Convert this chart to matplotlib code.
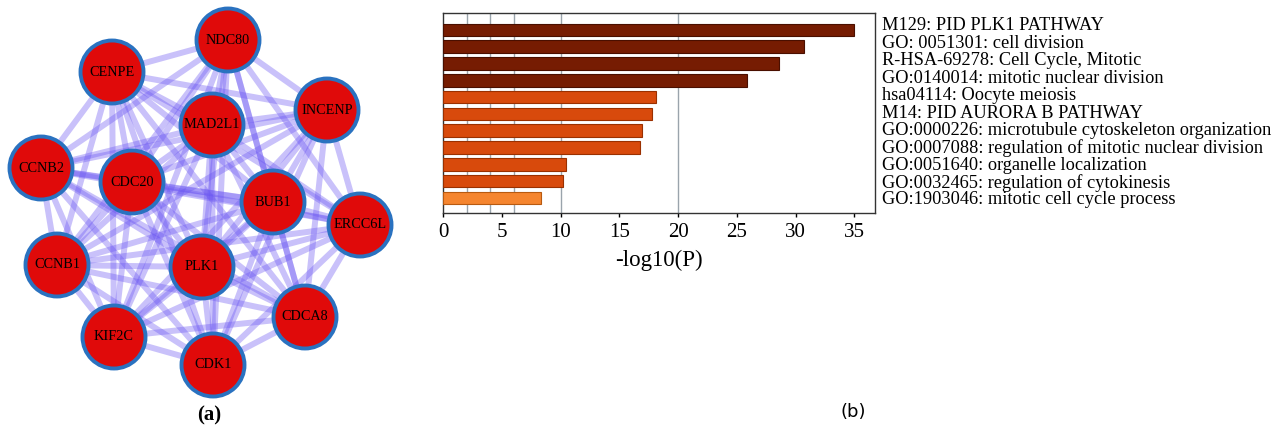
import itertools
import matplotlib
matplotlib.use("Agg")
import matplotlib.pyplot as plt
from matplotlib.patches import Circle

# network: hub genes and their layout positions (pixel space of the left panel)
genes = ["NDC80", "CENPE", "INCENP", "MAD2L1", "CCNB2", "CDC20", "BUB1",
         "ERCC6L", "CCNB1", "PLK1", "CDCA8", "KIF2C", "CDK1"]
node_x = [228, 112, 327, 212, 41, 132, 273, 360, 57, 202, 305, 114, 213]
node_y = [40, 72, 110, 125, 168, 182, 202, 225, 265, 267, 317, 337, 365]
edges = list(itertools.combinations(range(len(genes)), 2))

# enrichment terms
terms = [
    "M129: PID PLK1 PATHWAY",
    "GO: 0051301: cell division",
    "R-HSA-69278: Cell Cycle, Mitotic",
    "GO:0140014: mitotic nuclear division",
    "hsa04114: Oocyte meiosis",
    "M14: PID AURORA B PATHWAY",
    "GO:0000226: microtubule cytoskeleton organization",
    "GO:0007088: regulation of mitotic nuclear division",
    "GO:0051640: organelle localization",
    "GO:0032465: regulation of cytokinesis",
    "GO:1903046: mitotic cell cycle process",
]
logp = [35.0, 30.7, 28.6, 25.9, 18.1, 17.8, 16.9, 16.8, 10.5, 10.2, 8.3]

W, H = 1288, 430
fig = plt.figure(figsize=(W / 100, H / 100), dpi=100)

# full-figure canvas in pixel units for the network and panel labels
canvas = fig.add_axes([0, 0, 1, 1])
canvas.set_xlim(0, W)
canvas.set_ylim(H, 0)
canvas.axis("off")

for i, j in edges:
    canvas.plot([node_x[i], node_x[j]], [node_y[i], node_y[j]],
                color="#6a55f2", alpha=0.36, lw=4.3, solid_capstyle="butt", zorder=1)

for g, x, y in zip(genes, node_x, node_y):
    canvas.add_patch(Circle((x, y), 31.5, facecolor="#e00a0a", edgecolor="#2a72c0",
                            lw=2.8, zorder=3))
    canvas.text(x, y, g, ha="center", va="center", fontsize=10.3,
                family="Liberation Serif", color="black", zorder=4)

canvas.text(209, 415, "(a)", ha="center", va="center", fontsize=15,
            family="Liberation Serif", fontweight="bold")
canvas.text(853, 412, "(b)", ha="center", va="center", fontsize=13,
            family="DejaVu Sans")

# bar chart of -log10(P)
ax = fig.add_axes([443 / W, 1 - 213 / H, (875 - 443) / W, (213 - 12.7) / H])
colors = []
edgecols = []
for v in logp:
    if v > 20:
        colors.append("#761c02"); edgecols.append("#4a0f00")
    elif v > 9:
        colors.append("#d84a0c"); edgecols.append("#9a3000")
    else:
        colors.append("#f5852f"); edgecols.append("#b85a10")
ypos = list(range(len(terms)))
ax.barh(ypos, logp, height=0.75, color=colors, edgecolor=edgecols, lw=0.8, zorder=3)
for gx in [2, 4, 6, 10, 20]:
    ax.axvline(gx, color="#9aa4ac", lw=1, zorder=1)

ax.set_xlim(0, 36.76)
ax.set_ylim(10.9, -1.03)
ax.set_yticks([])
ax.set_xticks(range(0, 36, 5))
ax.tick_params(axis="x", length=3, width=1, labelsize=15, pad=4)
for lab in ax.get_xticklabels():
    lab.set_family("Liberation Serif")
ax.set_xlabel("-log10(P)", fontsize=16.5, family="Liberation Serif", labelpad=6)
for s in ax.spines.values():
    s.set_color("#333333")
    s.set_linewidth(1)

# term labels to the right of the frame
for k, t in enumerate(terms):
    canvas.text(882, 26 + k * 17.4, t, ha="left", va="center", fontsize=13.2,
                family="Liberation Serif", color="black")

fig.savefig("out.png", dpi=100)
